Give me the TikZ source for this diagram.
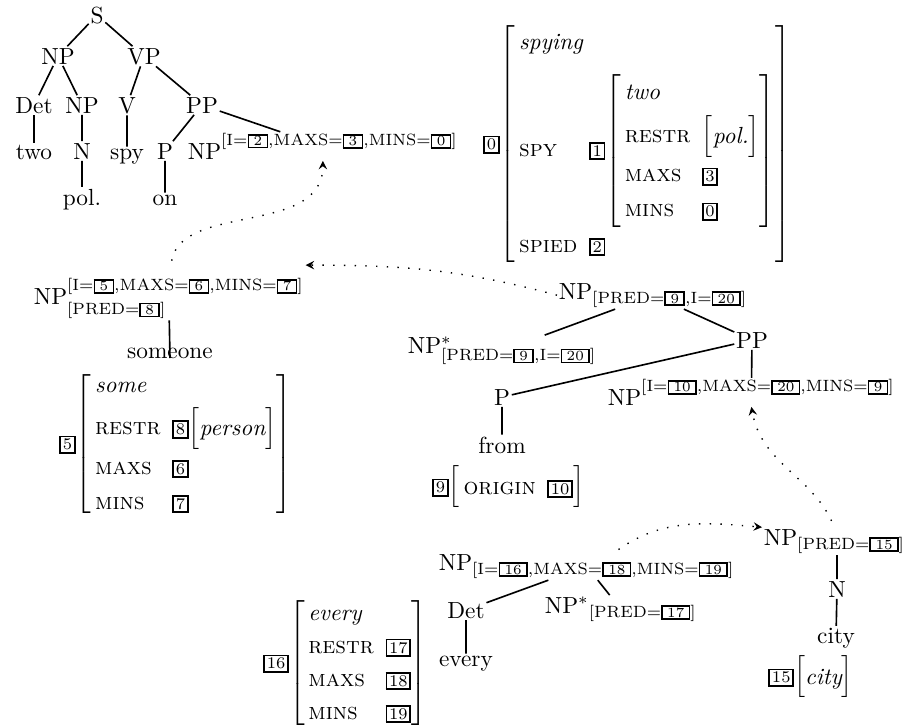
\documentclass[tikz,border=0pt]{standalone}
\usetikzlibrary{arrows}
\newcommand\tg[1]{{\setlength\fboxsep{0.7pt}\setlength\fboxrule{0.8pt}\fbox{\scriptsize#1}}}
\newcommand\stg[1]{{\setlength\fboxsep{0.4pt}\setlength\fboxrule{0.7pt}\fbox{\hspace{1.5pt}\fontsize{6}{7}\selectfont#1\hspace{1.5pt}}}}
\newcommand\avm[1]{\left[\begin{array}{@{\,}l@{\hspace{5pt}}l@{}}#1\end{array}\right]}
\newcommand\avmone[1]{\left[\begin{array}{@{}l@{}}#1\end{array}\right]}
\newcommand\up[2]{\raisebox{#1}{$\scriptstyle#2$}}
\renewcommand\arraystretch{1.25}
\begin{document}
\begin{tikzpicture}[x=0.429pt,y=-0.429pt,
  every node/.style={anchor=base,inner sep=0.6pt},
  lbl/.style={anchor=base west},
  avmbox/.style={anchor=west,inner sep=0pt},
  edge/.style={line width=0.7pt},
  lnk/.style={line width=0.6pt,loosely dotted,-stealth}]
\useasboundingbox (0,0) rectangle (907,727);
\node (s) at (97,23) {S};
\node (np1) at (58,64) {NP};
\node (vp) at (144,64) {VP};
\node (det1) at (34,113) {Det};
\node (np2) at (82,113) {NP};
\node (v) at (127,113) {V};
\node (pp1) at (202,113) {PP};
\node (two) at (34,159) {two};
\node (n1) at (82,159) {N};
\node (spy) at (127,159) {spy};
\node (p1) at (165,159) {P};
\node[lbl] (np3) at (186,159) {NP$^{\up{2pt}{[\mathrm{I}=\stg2,\mathrm{MAXS}=\stg3,\mathrm{MINS}=\stg0]}}$};
\node (pol) at (82,205) {pol.};
\node (on) at (165,205) {on};
\draw[edge] (s)--(np1) (s)--(vp) (np1)--(det1) (np1)--(np2) (vp)--(v) (vp)--(pp1)
  (det1)--(two) (np2)--(n1) (v)--(spy) (pp1)--(p1) (pp1)--(np3) (n1)--(pol) (p1)--(on);
\node[avmbox] (f0) at (483,144) {\tg0$\avm{\multicolumn{2}{@{\,}l}{\textit{spying}} \\[6pt]
  \textsc{spy} & \tg1\!\avm{\textit{two} & \\[2.5pt] \textsc{restr} & \avmone{\textit{pol.}} \\[2pt]
  \textsc{maxs} & \tg3 \\ \textsc{mins} & \tg0} \\[6pt]
  \textsc{spied} & \tg2}$};
\node[lbl] (np5) at (32,304) {NP$^{\up{2pt}{[\mathrm{I}=\stg5,\mathrm{MAXS}=\stg6,\mathrm{MINS}=\stg7]}}_{\up{-2pt}{[\mathrm{PRED}=\stg8]}}$};
\node (one) at (170,358) {someone};
\draw[edge] (np5)--(one.base);
\node[avmbox] (f5) at (59,444) {\tg5$\avm{\textit{some} & \\[2pt] \textsc{restr} & \tg8\!\avmone{\textit{person}} \\[0.5pt]
  \textsc{maxs} & \tg6 \\ \textsc{mins} & \tg7}$};
\node[lbl] (np9) at (557,299) {NP$_{[\mathrm{PRED}=\stg9,\mathrm{I}=\stg{20}]}$};
\node[lbl] (np9s) at (406,353) {NP$^*_{[\mathrm{PRED}=\stg9,\mathrm{I}=\stg{20}]}$};
\node (pp2) at (752,348) {PP};
\node (p2) at (502,405) {P};
\node[lbl] (np10) at (606,405) {NP$^{\up{2pt}{[\mathrm{I}=\stg{10},\mathrm{MAXS}=\stg{20},\mathrm{MINS}=\stg9]}}$};
\node (from) at (502,453) {from};
\node[avmbox] (f9) at (432,487) {\tg9$\avm{\textsc{origin} & \tg{10}}$};
\draw[edge] (np9)--(np9s) (np9)--(pp2) (pp2)--(p2) (pp2)--(np10) (p2)--(from);
\node[lbl] (np16) at (437,570) {NP$_{[\mathrm{I}=\stg{16},\mathrm{MAXS}=\stg{18},\mathrm{MINS}=\stg{19}]}$};
\node (det2) at (466,618) {Det};
\node (every) at (466,666) {every};
\node[lbl] (np17) at (543,613) {NP$^*{}_{[\mathrm{PRED}=\stg{17}]}$};
\node[lbl] (np15) at (762,545) {NP$_{[\mathrm{PRED}=\stg{15}]}$};
\node (n2) at (837,597) {N};
\node (city) at (836,643) {city};
\draw[edge] (np16)--(det2) (np16)--(np17) (det2)--(every) (n2|-np15.south)--(n2) (n2)--(city);
\node[avmbox] (f15) at (768,677) {\tg{15}$\avmone{\textit{city}}$};
\node[avmbox] (f16) at (263,663) {\renewcommand\arraystretch{1.18}\tg{16}$\avm{\textit{every} & \\ \textsc{restr} & \tg{17} \\
  \textsc{maxs} & \tg{18} \\ \textsc{mins} & \tg{19}}$};
\draw[lnk,shorten <=7pt] (np5.north) to[out=80,in=-90] (np3.south);
\draw[lnk] (np9.west) to[out=165,in=0] ([yshift=5pt]np5.north east);
\draw[lnk,shorten <=3pt] (np15.north) to[out=115,in=-80] (np10.south);
\draw[lnk,shorten <=2pt] ([xshift=12pt]np16.north) to[out=35,in=175] (np15.north west);
\end{tikzpicture}
\end{document}
